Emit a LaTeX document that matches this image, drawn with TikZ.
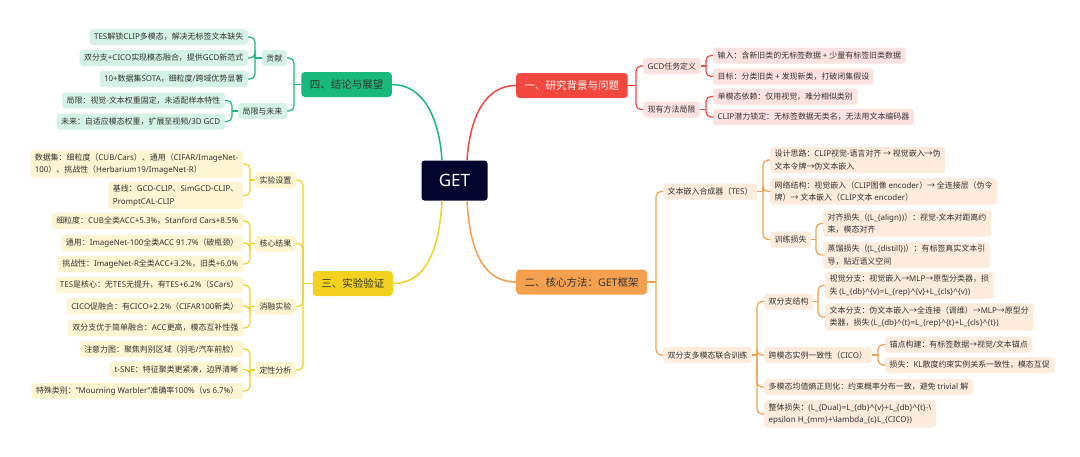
\documentclass[tikz,border=0pt]{standalone}
\usepackage{fontspec}
\setmainfont{Noto Sans}
\newfontfamily\cjkf{Noto Sans CJK SC}
\newXeTeXintercharclass\mycjk
\newcount\mycnt
\newcommand{\setcjkrange}[2]{%
  \mycnt=#1\relax
  \loop\XeTeXcharclass\mycnt=\mycjk\relax
  \ifnum\mycnt<#2\relax\advance\mycnt by 1\relax\repeat}
\setcjkrange{"4E00}{"9FFF}
\setcjkrange{"3000}{"303F}
\setcjkrange{"FF00}{"FFEF}
\setcjkrange{"2190}{"21FF}
\XeTeXinterchartoks 0 \mycjk = {\cjkf}
\XeTeXinterchartoks 4095 \mycjk = {\cjkf}
\XeTeXinterchartoks \mycjk 0 = {\rmfamily}
\XeTeXinterchartoks 4095 0 = {\rmfamily}
\XeTeXinterchartokenstate=1
\definecolor{rmain}{HTML}{F2473F}
\definecolor{rlite}{HTML}{FDE2DF}
\definecolor{omain}{HTML}{F5A04F}
\definecolor{olite}{HTML}{FDEBDC}
\definecolor{ymain}{HTML}{F2D21E}
\definecolor{ylite}{HTML}{FEF5D2}
\definecolor{gmain}{HTML}{18B97A}
\definecolor{glite}{HTML}{D4F2E5}
\definecolor{navy}{HTML}{04052E}
\definecolor{txt}{HTML}{333333}
\tikzset{
  leaf/.style={rounded corners=3pt, inner xsep=4.5pt, inner ysep=3pt, minimum height=16pt,
    font=\fontsize{7.95}{12.5}\selectfont, text=txt, align=left},
  rc/.style={leaf, fill=rlite, anchor=west},
  oc/.style={leaf, fill=olite, anchor=west},
  yc/.style={leaf, fill=ylite, anchor=east},
  gc/.style={leaf, fill=glite, anchor=east},
  mainbox/.style={rounded corners=3.5pt, inner xsep=8.5pt, minimum height=25pt,
    font=\fontsize{10.5}{12}\selectfont, text=txt},
  getbox/.style={rounded corners=3pt, fill=navy, text=white, minimum width=66pt,
    minimum height=40pt, font=\fontsize{17}{17}\selectfont},
  rline/.style={draw=rmain, line width=1.2pt, rounded corners=5pt},
  oline/.style={draw=omain, line width=1.2pt, rounded corners=5pt},
  yline/.style={draw=ymain, line width=1.2pt, rounded corners=5pt},
  gline/.style={draw=gmain, line width=1.2pt, rounded corners=5pt},
}
\newcommand{\brRight}[3]{%
  \foreach \c in {#3}{%
    \draw[#1] (#2.east) -- ([xshift=-7pt]\c.west |- #2.east);
    \draw[#1] ([xshift=-7pt]\c.west |- #2.east) |- (\c.west);}}
\newcommand{\brLeft}[3]{%
  \foreach \c in {#3}{%
    \draw[#1] (#2.west) -- ([xshift=7pt]\c.east |- #2.west);
    \draw[#1] ([xshift=7pt]\c.east |- #2.west) |- (\c.east);}}
\begin{document}
\begin{tikzpicture}[x=1pt,y=-1pt]
\useasboundingbox (0,0) rectangle (1080,456);
\fill[white] (0,0) rectangle (1080,456);

% centre
\node[getbox] (get) at (454.5,180.5) {GET};

% main branches
\node[mainbox, fill=rmain, text=white, anchor=west] (rb) at (516,85.5) {一、研究背景与问题};
\node[mainbox, fill=omain, anchor=west] (ob) at (516,282) {二、核心方法：GET框架};
\node[mainbox, fill=ymain, anchor=east] (yb) at (393,283.5) {三、实验验证};
\node[mainbox, fill=gmain, anchor=east] (gb) at (392,84.5) {四、结论与展望};

\draw[draw=rmain, line width=1.5pt] ([xshift=12.5pt]get.north) .. controls +(3,-45) and +(-30,0) .. (rb.west);
\draw[draw=omain, line width=1.5pt] ([xshift=12.5pt]get.south) .. controls +(3,55) and +(-30,0) .. (ob.west);
\draw[draw=ymain, line width=1.5pt] ([xshift=-12.5pt]get.south) .. controls +(-3,55) and +(30,0) .. (yb.east);
\draw[draw=gmain, line width=1.5pt] ([xshift=-12.5pt]get.north) .. controls +(-3,-45) and +(30,0) .. (gb.east);

% ---------- red ----------
\node[rc] (r1) at (643,66) {GCD任务定义};
\node[rc] (r2) at (643,109.5) {现有方法局限};
\node[rc] (r11) at (713,55.5) {输入：含新旧类的无标签数据 + 少量有标签旧类数据};
\node[rc] (r12) at (713,76.5) {目标：分类旧类 + 发现新类，打破闭集假设};
\node[rc] (r21) at (713,96.5) {单模态依赖：仅用视觉，难分相似类别};
\node[rc] (r22) at (713,117) {CLIP潜力锁定：无标签数据无类名，无法用文本编码器};
\brRight{rline}{rb}{r1,r2}
\brRight{rline}{r1}{r11,r12}
\brRight{rline}{r2}{r21,r22}

% ---------- orange ----------
\node[oc] (o1) at (663,191.5) {文本嵌入合成器（TES）};
\node[oc] (o11) at (770,160) {设计思路：CLIP视觉-语言对齐 → 视觉嵌入→伪\\文本令牌→伪文本嵌入};
\node[oc] (o12) at (770,191.5) {网络结构：视觉嵌入（CLIP图像 encoder）→ 全连接层（伪令\\牌）→ 文本嵌入（CLIP文本 encoder）};
\node[oc] (o13) at (770,239.5) {训练损失};
\node[oc] (o131) at (823,223.5) {对齐损失（(L\_\{align\})）：视觉-文本对距离约\\束，模态对齐};
\node[oc] (o132) at (823,255) {蒸馏损失（(L\_\{distill\})）：有标签真实文本引\\导，贴近语义空间};
\node[oc] (o2) at (663,355) {双分支多模态联合训练};
\node[oc] (o21) at (764,301.5) {双分支结构};
\node[oc] (o211) at (825,285.5) {视觉分支：视觉嵌入→MLP→原型分类器，损\\失 (L\_\{db\}\textasciicircum\{v\}=L\_\{rep\}\textasciicircum\{v\}+L\_\{cls\}\textasciicircum\{v\})};
\node[oc] (o212) at (825,317) {文本分支：伪文本嵌入→全连接（调维）→MLP→原型分\\类器，损失 (L\_\{db\}\textasciicircum\{t\}=L\_\{rep\}\textasciicircum\{t\}+L\_\{cls\}\textasciicircum\{t\})};
\node[oc] (o22) at (764,355) {跨模态实例一致性（CICO）};
\node[oc] (o221) at (885,344.5) {锚点构建：有标签数据→视觉/文本锚点};
\node[oc] (o222) at (885,365) {损失：KL散度约束实例关系一致性，模态互促};
\node[oc] (o23) at (764,387) {多模态均值熵正则化：约束概率分布一致，避免 trivial 解};
\node[oc] (o24) at (764,414) {整体损失：(L\_\{Dual\}=L\_\{db\}\textasciicircum\{v\}+L\_\{db\}\textasciicircum\{t\}-\textbackslash\\epsilon H\_\{mm\}+\textbackslash lambda\_\{c\}L\_\{CICO\})};
\brRight{oline}{ob}{o1,o2}
\brRight{oline}{o1}{o11,o12,o13}
\brRight{oline}{o13}{o131,o132}
\brRight{oline}{o2}{o21,o22,o23,o24}
\brRight{oline}{o21}{o211,o212}
\brRight{oline}{o22}{o221,o222}

% ---------- yellow ----------
\node[yc] (y1) at (296,180) {实验设置};
\node[yc] (y11) at (243,164) {数据集：细粒度（CUB/Cars）、通用（CIFAR/ImageNet-\\100）、挑战性（Herbarium19/ImageNet-R）};
\node[yc] (y12) at (243,195.5) {基线：GCD-CLIP、SimGCD-CLIP、\\PromptCAL-CLIP};
\node[yc] (y2) at (296,243.5) {核心结果};
\node[yc] (y21) at (243,221) {细粒度：CUB全类ACC+5.3\%，Stanford Cars+8.5\%};
\node[yc] (y22) at (243,243) {通用：ImageNet-100全类ACC 91.7\%（破瓶颈）};
\node[yc] (y23) at (243,264) {挑战性：ImageNet-R全类ACC+3.2\%，旧类+6.0\%};
\node[yc] (y3) at (296,306.5) {消融实验};
\node[yc] (y31) at (243,285) {TES是核心：无TES无提升，有TES+6.2\%（SCars）};
\node[yc] (y32) at (243,306) {CICO促融合：有CICO+2.2\%（CIFAR100新类）};
\node[yc] (y33) at (243,328) {双分支优于简单融合：ACC更高，模态互补性强};
\node[yc] (y4) at (296,370) {定性分析};
\node[yc] (y41) at (243,349) {注意力图：聚焦判别区域（羽毛/汽车前脸）};
\node[yc] (y42) at (243,369.5) {t-SNE：特征聚类更紧凑，边界清晰};
\node[yc] (y43) at (243,391) {特殊类别："Mourning Warbler"准确率100\%（vs 6.7\%）};
\brLeft{yline}{yb}{y1,y2,y3,y4}
\brLeft{yline}{y1}{y11,y12}
\brLeft{yline}{y2}{y21,y22,y23}
\brLeft{yline}{y3}{y31,y32,y33}
\brLeft{yline}{y4}{y41,y42,y43}

% ---------- green ----------
\node[gc] (g1) at (287,58) {贡献};
\node[gc] (g2) at (287,111) {局限与未来};
\node[gc] (g11) at (248,37) {TES解锁CLIP多模态，解决无标签文本缺失};
\node[gc] (g12) at (248,58) {双分支+CICO实现模态融合，提供GCD新范式};
\node[gc] (g13) at (248,79) {10+数据集SOTA，细粒度/跨域优势显著};
\node[gc] (g21) at (225,100.5) {局限：视觉-文本权重固定，未适配样本特性};
\node[gc] (g22) at (225,121.5) {未来：自适应模态权重，扩展至视频/3D GCD};
\brLeft{gline}{gb}{g1,g2}
\brLeft{gline}{g1}{g11,g12,g13}
\brLeft{gline}{g2}{g21,g22}
\end{tikzpicture}
\end{document}
